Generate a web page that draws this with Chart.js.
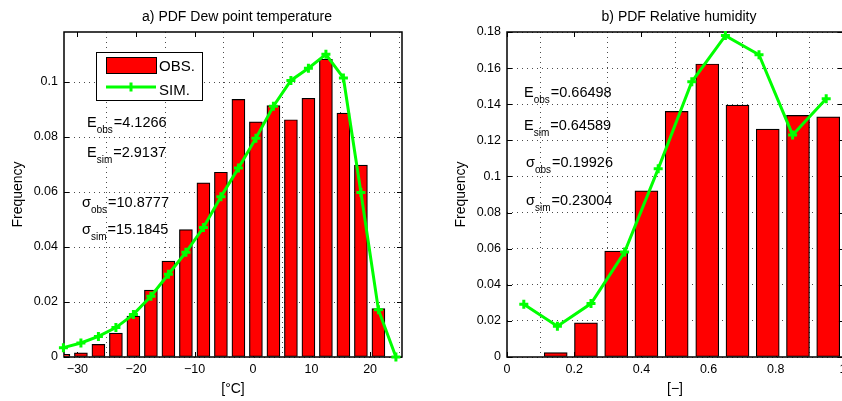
<!DOCTYPE html>
<html>
<head>
<meta charset="utf-8">
<script src="https://cdn.jsdelivr.net/npm/chart.js@4.4.1/dist/chart.umd.min.js"></script>
<style>
    html, body { margin: 0; padding: 0; background: #fff; overflow: hidden; width: 842px; height: 401px; }
    .panel { position: absolute; top: 0; height: 401px; }
    #leftBox { left: 0; width: 421px; }
    #rightBox { left: 420px; width: 432px; }
</style>
</head>
<body>
<div class="panel" id="leftBox"><canvas id="dewChart"></canvas></div>
<div class="panel" id="rightBox"><canvas id="rhChart"></canvas></div>
<script>
// a) Dew point temperature: 20 histogram bins (centres in °C)
const dewBins = [-32.4, -29.41, -26.42, -23.43, -20.44, -17.45, -14.46, -11.47, -8.48, -5.49,
                 -2.5, 0.49, 3.48, 6.47, 9.46, 12.45, 15.44, 18.43, 21.42, 24.41];
const dewObs = [0.001, 0.0015, 0.0046, 0.0087, 0.0149, 0.0243, 0.0349, 0.0463, 0.0633, 0.0672,
                0.0937, 0.0855, 0.0914, 0.0863, 0.0941, 0.1083, 0.0887, 0.0698, 0.0176, 0];
const dewSim = [0.0034, 0.0051, 0.0075, 0.0107, 0.0155, 0.0221, 0.0301, 0.0381, 0.0471, 0.0583,
                0.0687, 0.0796, 0.0912, 0.1006, 0.105, 0.1101, 0.1015, 0.0598, 0.0172, 0];
const dewXTicks = [-30, -20, -10, 0, 10, 20];
const dewYTicks = [0, 0.02, 0.04, 0.06, 0.08, 0.1];

// b) Relative humidity: observed bins and simulated bins
const rhObsBins = [0.145, 0.235, 0.325, 0.415, 0.505, 0.596, 0.686, 0.776, 0.866, 0.956];
const rhObs = [0.0024, 0.0189, 0.0587, 0.092, 0.136, 0.1623, 0.1395, 0.1262, 0.1338, 0.133];
const rhSimBins = [0.05, 0.15, 0.25, 0.35, 0.45, 0.55, 0.65, 0.75, 0.85, 0.95];
const rhSim = [0.0292, 0.017, 0.0296, 0.0581, 0.1042, 0.1524, 0.178, 0.1674, 0.123, 0.143];
const rhXTicks = [0, 0.2, 0.4, 0.6, 0.8, 1];
const rhYTicks = [0, 0.02, 0.04, 0.06, 0.08, 0.1, 0.12, 0.14, 0.16, 0.18];

const FONT = '"Liberation Sans", Arial, Helvetica, sans-serif';
const GREEN = '#00ff00';

// text with a subscript, e.g. E_obs=4.1266
function drawSubText(ctx, x, y, main, sub, rest) {
    ctx.font = '14.5px ' + FONT;
    ctx.fillText(main, x, y);
    x += ctx.measureText(main).width;
    ctx.font = '10px ' + FONT;
    ctx.fillText(sub, x, y + 6);
    x += ctx.measureText(sub).width + 1;
    ctx.font = '14.5px ' + FONT;
    ctx.fillText(rest, x, y);
}

// matlab style box, inward ticks, titles, notes and legend
const decorPlugin = {
    id: 'decor',
    beforeDatasetsDraw(chart, args, opts) {
        const { ctx, chartArea: a, scales } = chart;
        ctx.save();
        ctx.strokeStyle = '#000';
        ctx.lineWidth = 1.5;
        ctx.strokeRect(a.left, a.top, a.right - a.left, a.bottom - a.top);
        ctx.lineWidth = 1;
        ctx.beginPath();
        scales.y.ticks.forEach(t => {
            const py = Math.round(scales.y.getPixelForValue(t.value)) + 0.5;
            ctx.moveTo(a.left, py); ctx.lineTo(a.left + 5, py);
            ctx.moveTo(a.right, py); ctx.lineTo(a.right - 5, py);
        });
        scales.x.ticks.forEach(t => {
            const px = Math.round(scales.x.getPixelForValue(t.value)) + 0.5;
            ctx.moveTo(px, a.bottom); ctx.lineTo(px, a.bottom - 5);
            ctx.moveTo(px, a.top); ctx.lineTo(px, a.top + 5);
        });
        ctx.stroke();
        ctx.restore();
    },
    afterDraw(chart, args, opts) {
        const { ctx, chartArea: a } = chart;
        ctx.save();
        ctx.fillStyle = '#000';
        ctx.textBaseline = 'alphabetic';

        // title
        ctx.font = '14px ' + FONT;
        ctx.textAlign = 'center';
        ctx.fillText(opts.title, (a.left + a.right) / 2 + 4, 21);

        // x label
        ctx.font = '14px ' + FONT;
        ctx.fillText(opts.xLabel, (a.left + a.right) / 2, 393);

        // y label
        ctx.save();
        ctx.translate(opts.yLabelX, (a.top + a.bottom) / 2);
        ctx.rotate(-Math.PI / 2);
        ctx.fillText('Frequency', 0, 5);
        ctx.restore();

        ctx.textAlign = 'left';
        opts.notes.forEach(n => drawSubText(ctx, n[0], n[1], n[2], n[3], n[4]));

        if (opts.legend) {
            const L = opts.legend;
            ctx.fillStyle = '#fff';
            ctx.fillRect(L.x, L.y, L.w, L.h);
            ctx.strokeStyle = '#000';
            ctx.lineWidth = 1;
            ctx.strokeRect(L.x + 0.5, L.y + 0.5, L.w, L.h);
            // OBS patch
            ctx.fillStyle = '#ff0000';
            ctx.fillRect(L.x + 10, L.y + 5, 50, 16);
            ctx.strokeRect(L.x + 10.5, L.y + 5.5, 50, 16);
            // SIM line with marker
            ctx.strokeStyle = GREEN;
            ctx.lineWidth = 3;
            ctx.beginPath();
            ctx.moveTo(L.x + 10, L.y + 35); ctx.lineTo(L.x + 60, L.y + 35);
            ctx.moveTo(L.x + 35, L.y + 30.5); ctx.lineTo(L.x + 35, L.y + 39.5);
            ctx.moveTo(L.x + 30.5, L.y + 35); ctx.lineTo(L.x + 39.5, L.y + 35);
            ctx.stroke();
            ctx.fillStyle = '#000';
            ctx.font = '15px ' + FONT;
            ctx.fillText('OBS.', L.x + 63, L.y + 19);
            ctx.fillText('SIM.', L.x + 63, L.y + 42.5);
        }
        ctx.restore();
    }
};

function makeConfig(p) {
    return {
        type: 'bar',
        data: {
            datasets: [
                {
                    type: 'line',
                    label: 'SIM.',
                    data: p.simX.map((x, i) => ({ x: x, y: p.simY[i] })),
                    borderColor: GREEN,
                    borderWidth: 3,
                    pointStyle: 'cross',
                    pointRadius: 4.5,
                    pointBorderWidth: 3,
                    pointBorderColor: GREEN,
                    pointBackgroundColor: GREEN,
                    tension: 0,
                    clip: 8,
                    order: 1
                },
                {
                    type: 'bar',
                    label: 'OBS.',
                    data: p.obsX.map((x, i) => ({ x: x, y: p.obsY[i] })),
                    backgroundColor: '#ff0000',
                    borderColor: '#000',
                    borderWidth: 1.2,
                    borderSkipped: false,
                    barThickness: p.barWidth,
                    order: 2
                }
            ]
        },
        options: {
            responsive: true,
            maintainAspectRatio: false,
            animation: false,
            layout: { padding: { left: 0, right: p.padRight, top: 32, bottom: 0 } },
            scales: {
                x: {
                    type: 'linear',
                    offset: false,
                    min: p.xMin,
                    max: p.xMax,
                    afterBuildTicks: s => { s.ticks = p.xTicks.map(v => ({ value: v })); },
                    afterFit: s => { s.height = 44; },
                    grid: { color: 'rgba(0,0,0,0.7)', lineWidth: 1, drawTicks: false },
                    border: { display: false, dash: [1, 4] },
                    ticks: {
                        color: '#000',
                        padding: 5,
                        maxRotation: 0,
                        autoSkip: false,
                        font: { family: FONT, size: 12.5 },
                        callback: v => String(+v.toFixed(2)).replace('-', '\u2212')
                    }
                },
                y: {
                    min: 0,
                    max: p.yMax,
                    afterBuildTicks: s => { s.ticks = p.yTicks.map(v => ({ value: v })); },
                    afterFit: s => { s.width = p.yWidth; },
                    grid: { color: 'rgba(0,0,0,0.7)', lineWidth: 1, drawTicks: false },
                    border: { display: false, dash: [1, 4] },
                    ticks: {
                        color: '#000',
                        padding: 6,
                        font: { family: FONT, size: 12.5 },
                        callback: v => String(+v.toFixed(3))
                    }
                }
            },
            plugins: {
                legend: { display: false },
                tooltip: { enabled: false },
                decor: p.decor
            }
        },
        plugins: [decorPlugin]
    };
}

Chart.defaults.font.family = FONT;

new Chart(document.getElementById('dewChart'), makeConfig({
    obsX: dewBins, obsY: dewObs, simX: dewBins, simY: dewSim,
    xTicks: dewXTicks, yTicks: dewYTicks,
    xMin: -32.3, xMax: 25.45, yMax: 0.1182,
    barWidth: 13, yWidth: 64, padRight: 19,
    decor: {
        title: 'a) PDF Dew point temperature',
        xLabel: '[°C]',
        yLabelX: 17,
        notes: [
            [87, 127, 'E', 'obs', '=4.1266'],
            [87, 157, 'E', 'sim', '=2.9137'],
            [82, 206.5, '\u03c3', 'obs', '=10.8777'],
            [82, 234, '\u03c3', 'sim', '=15.1845']
        ],
        legend: { x: 96, y: 52, w: 106, h: 48 }
    }
}));

new Chart(document.getElementById('rhChart'), makeConfig({
    obsX: rhObsBins, obsY: rhObs, simX: rhSimBins, simY: rhSim,
    xTicks: rhXTicks, yTicks: rhYTicks,
    xMin: 0, xMax: 1, yMax: 0.18,
    barWidth: 23, yWidth: 87, padRight: 9,
    decor: {
        title: 'b) PDF Relative humidity',
        xLabel: '[\u2212]',
        yLabelX: 40,
        notes: [
            [104, 97, 'E', 'obs', '=0.66498'],
            [104, 130, 'E', 'sim', '=0.64589'],
            [106, 166.5, '\u03c3', 'obs', '=0.19926'],
            [106, 205, '\u03c3', 'sim', '=0.23004']
        ],
        legend: null
    }
}));
</script>
</body>
</html>
